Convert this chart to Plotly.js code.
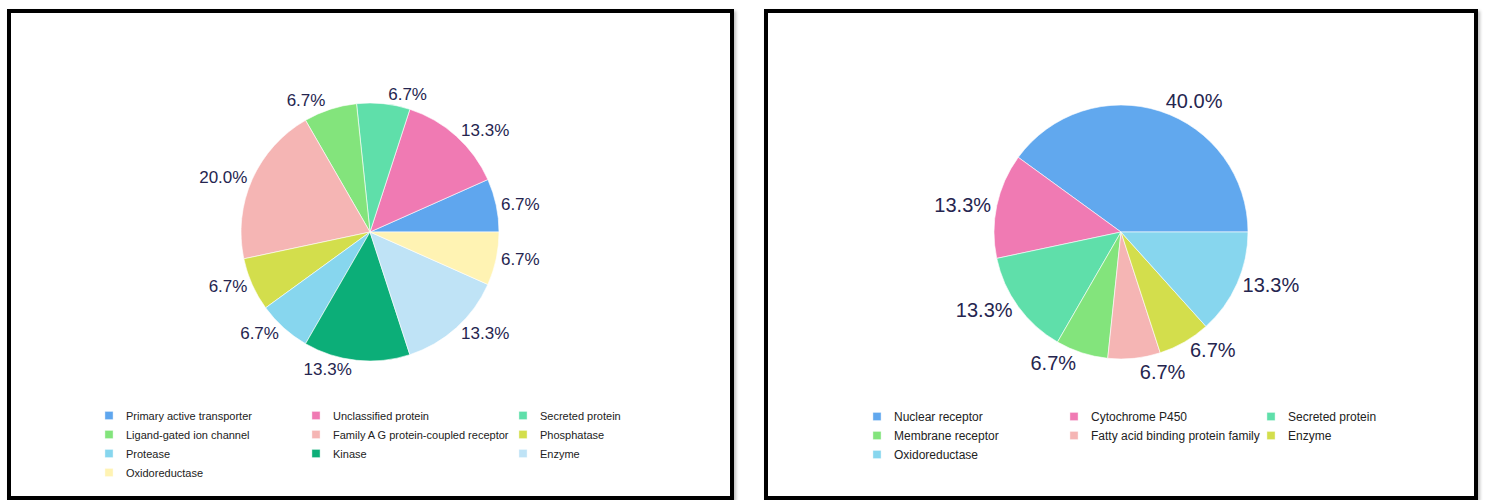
<!DOCTYPE html>
<html>
<head>
<meta charset="utf-8">
<script src="https://cdn.plot.ly/plotly-3.0.1.min.js"></script>
<style>
  html, body { margin: 0; padding: 0; background: #ffffff; }
  #wrap { position: relative; width: 1488px; height: 500px; overflow: hidden; background: #fff; }
  .chart { position: absolute; top: 0; width: 744px; height: 500px; }
  #left { left: 0; }
  #right { left: 744px; }
  .frame { position: absolute; border: 4px solid #000; box-sizing: border-box; pointer-events: none;
           box-shadow: 2px 2px 3px rgba(0,0,0,0.25); }
  /* no leader lines for outside labels; smaller legend swatches */
  path.textline { display: none !important; }
  path.legendpie { transform: translate(23px, 0px) scale(0.68); }
</style>
</head>
<body>
<div id="wrap">
  <div id="left" class="chart"></div>
  <div id="right" class="chart"></div>
  <div class="frame" style="left:7px; top:9px; width:727px; height:491px;"></div>
  <div class="frame" style="left:764px; top:9px; width:714px; height:491px;"></div>
</div>
<script>
// ---- Left chart data ----
var leftLabels = ["Primary active transporter", "Unclassified protein", "Secreted protein",
  "Ligand-gated ion channel", "Family A G protein-coupled receptor", "Phosphatase",
  "Protease", "Kinase", "Enzyme", "Oxidoreductase"];
var leftCounts = [1, 2, 1, 1, 3, 1, 1, 2, 2, 1];
var leftColors = ["#5fa6ee", "#f07ab3", "#5fdfaa", "#83e47c", "#f5b5b4", "#d3de4c",
  "#87d6ee", "#0cae78", "#bfe3f6", "#fff3b3"];

// ---- Right chart data ----
var rightLabels = ["Nuclear receptor", "Cytochrome P450", "Secreted protein",
  "Membrane receptor", "Fatty acid binding protein family", "Enzyme", "Oxidoreductase"];
var rightCounts = [6, 2, 2, 1, 1, 1, 2];
var rightColors = ["#61a8ee", "#f07ab3", "#5fdfaa", "#83e47c", "#f5b5b4", "#d3de4c", "#87d6ee"];

var labelColor = "#25254f";
var FONT = "Arial, 'Liberation Sans', sans-serif";

function sum(a) { return a.reduce(function (s, v) { return s + v; }, 0); }

function pieTrace(labels, values, colors, fsize) {
  // first slice starts at 3 o'clock and the slices run counterclockwise
  var rot = 90 - 360 * values[0] / sum(values);
  return {
    type: "pie",
    labels: labels,
    values: values,
    sort: false,
    direction: "counterclockwise",
    rotation: rot,
    textposition: "outside",
    texttemplate: "%{percent:.1%}",
    textfont: { family: FONT, size: fsize, color: labelColor },
    outsidetextfont: { family: FONT, size: fsize, color: labelColor },
    marker: { colors: colors, line: { color: "#ffffff", width: 0.6 } },
    hoverinfo: "none",
    automargin: false
  };
}

var W = 744, H = 500;

// left pie: center (370,232), radius 129
var tL = pieTrace(leftLabels, leftCounts, leftColors, 17);
tL.domain = { x: [(370 - 129) / W, (370 + 129) / W], y: [(268 - 129) / H, (268 + 129) / H] };

var layoutL = {
  width: W, height: H,
  margin: { l: 0, r: 0, t: 0, b: 0 },
  paper_bgcolor: "rgba(0,0,0,0)",
  plot_bgcolor: "rgba(0,0,0,0)",
  showlegend: true,
  legend: {
    orientation: "h",
    x: 86 / W, xanchor: "left",
    y: 1 - 401 / H, yanchor: "top",
    font: { family: FONT, size: 11, color: "#222222" },
    entrywidth: 162, entrywidthmode: "pixels",
    tracegroupgap: 0, itemclick: false, itemdoubleclick: false
  }
};

// right pie: center (1121,232) -> local x 377
var tR = pieTrace(rightLabels, rightCounts, rightColors, 20);
tR.domain = { x: [(377 - 127) / W, (377 + 127) / W], y: [(268 - 127) / H, (268 + 127) / H] };

var layoutR = {
  width: W, height: H,
  margin: { l: 0, r: 0, t: 0, b: 0 },
  paper_bgcolor: "rgba(0,0,0,0)",
  plot_bgcolor: "rgba(0,0,0,0)",
  showlegend: true,
  legend: {
    orientation: "h",
    x: 110 / W, xanchor: "left",
    y: 1 - 402 / H, yanchor: "top",
    font: { family: FONT, size: 12, color: "#222222" },
    entrywidth: 152, entrywidthmode: "pixels",
    tracegroupgap: 0, itemclick: false, itemdoubleclick: false
  }
};

var cfg = { displayModeBar: false, staticPlot: true };
Plotly.newPlot("left", [tL], layoutL, cfg);
Plotly.newPlot("right", [tR], layoutR, cfg);
</script>
</body>
</html>
